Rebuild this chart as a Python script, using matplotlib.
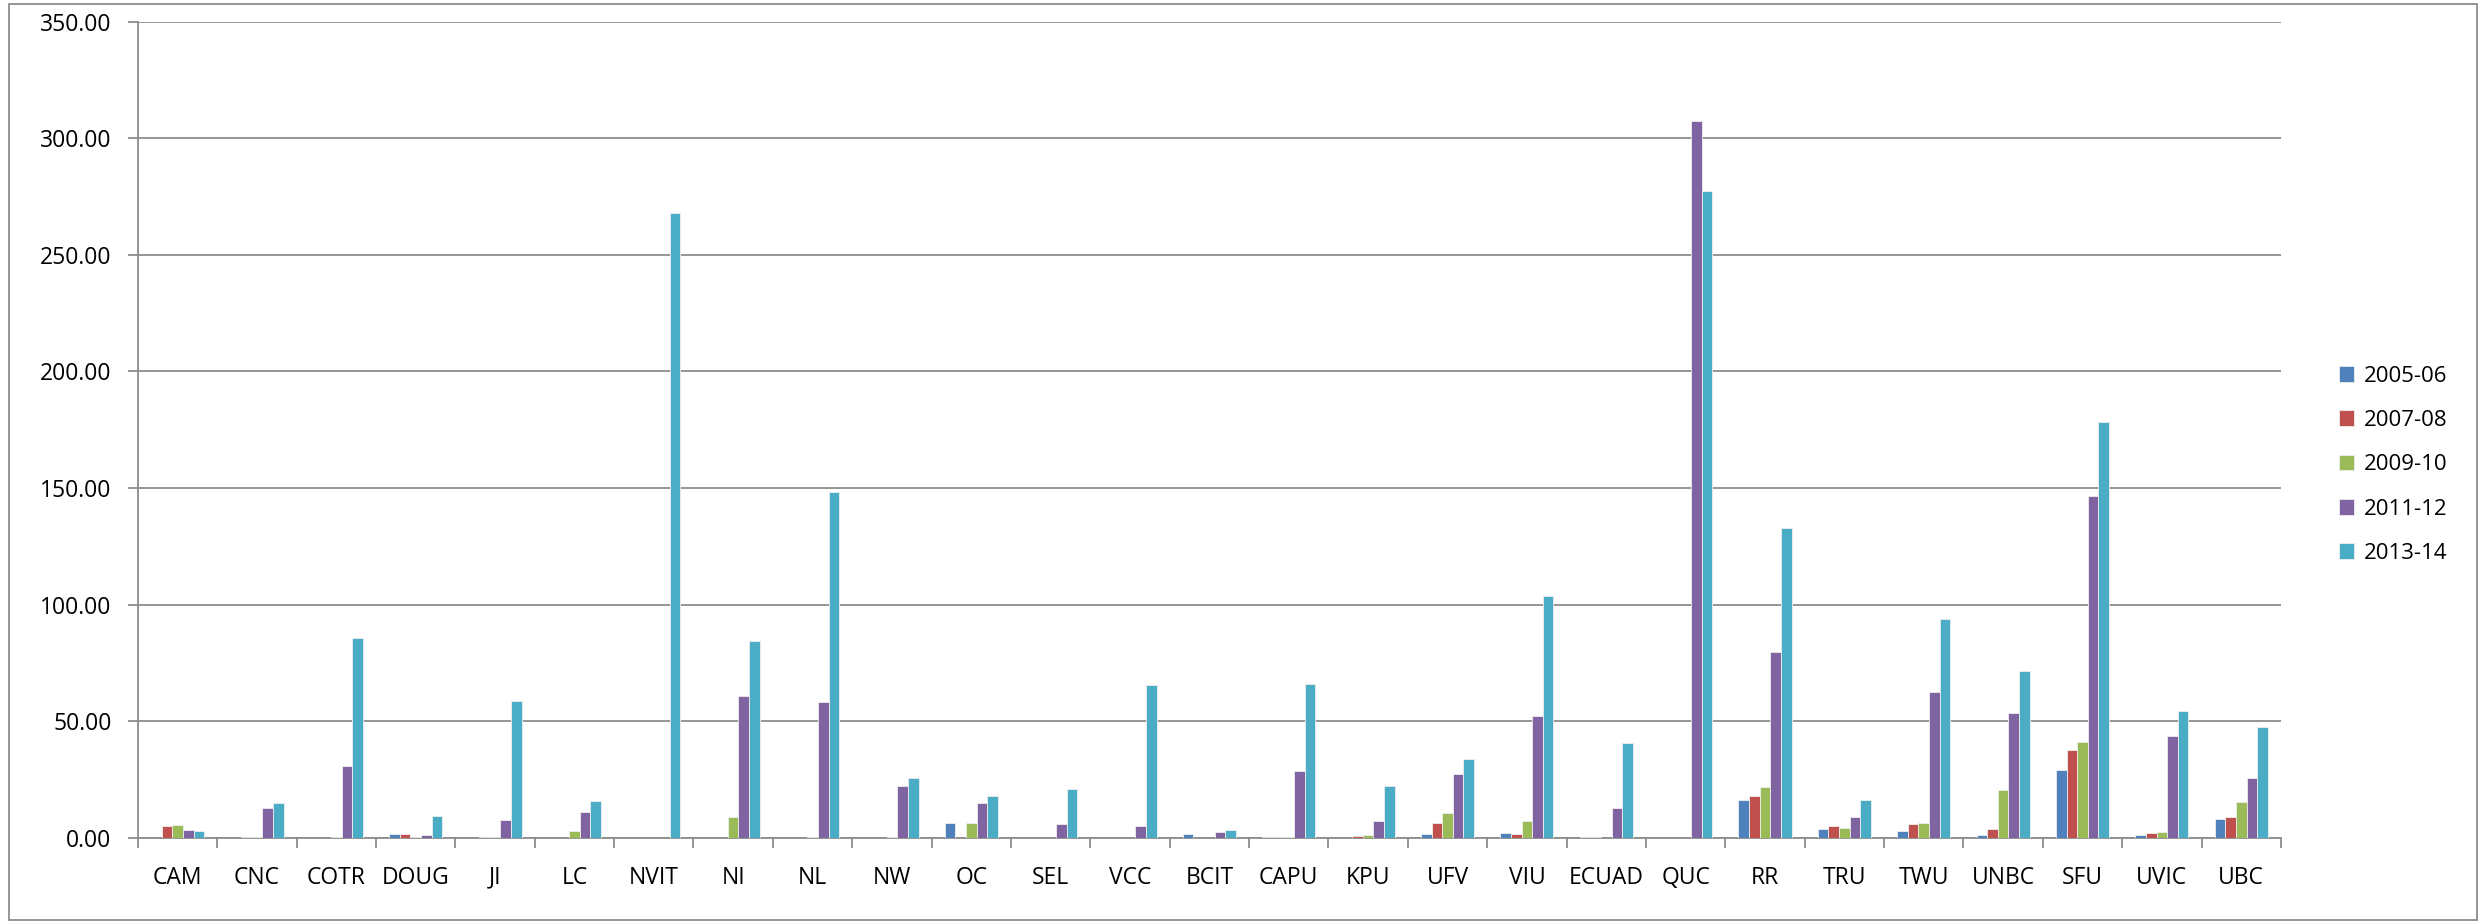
import numpy as np
import matplotlib
matplotlib.use("Agg")
import matplotlib.pyplot as plt
from matplotlib.patches import Rectangle

plt.rcParams['font.family'] = ['Open Sans', 'DejaVu Sans']

categories = ['CAM', 'CNC', 'COTR', 'DOUG', 'JI', 'LC', 'NVIT', 'NI', 'NL', 'NW',
              'OC', 'SEL', 'VCC', 'BCIT', 'CAPU', 'KPU', 'UFV', 'VIU', 'ECUAD',
              'QUC', 'RR', 'TRU', 'TWU', 'UNBC', 'SFU', 'UVIC', 'UBC']

y2005_06 = [0.0, 0.1, 0.0, 1.9, 0.1, 0.0, 0.0, 0.1, 0.0, 0.0, 6.4, 0.2, 0.0, 1.7,
            0.5, 0.0, 1.9, 2.0, 0.5, 0.0, 16.1, 3.9, 3.1, 1.3, 29.0, 1.4, 8.2]
y2007_08 = [5.0, 0.5, 0.0, 1.6, 0.5, 0.0, 0.0, 0.0, 0.0, 0.0, 0.0, 0.0, 0.0, 0.0,
            0.5, 0.9, 6.6, 1.9, 0.5, 0.0, 18.0, 5.0, 6.1, 4.0, 37.5, 2.1, 8.9]
y2009_10 = [5.6, 0.5, 0.5, 0.4, 0.5, 3.0, 0.0, 9.1, 0.5, 0.5, 6.6, 0.2, 0.0, 0.0,
            0.5, 1.4, 10.9, 7.3, 0.0, 0.0, 22.0, 4.3, 6.4, 20.6, 41.0, 2.4, 15.6]
y2011_12 = [3.3, 12.9, 31.0, 1.1, 7.6, 11.1, 0.0, 61.0, 58.3, 22.1, 15.0, 6.1, 5.3,
            2.7, 28.9, 7.1, 27.3, 52.4, 12.7, 307.3, 79.8, 9.1, 62.6, 53.7, 146.8,
            43.9, 25.6]
y2013_14 = [3.1, 14.9, 85.8, 9.6, 58.9, 15.7, 268.0, 84.5, 148.2, 25.7, 18.0, 21.0,
            65.7, 3.6, 66.2, 22.1, 33.9, 103.6, 40.9, 277.5, 132.7, 16.4, 94.0, 71.6,
            178.5, 54.5, 47.6]

series = ['2005-06', '2007-08', '2009-10', '2011-12', '2013-14']
values = [y2005_06, y2007_08, y2009_10, y2011_12, y2013_14]
colors = ['#4F81BD', '#C0504D', '#9BBB59', '#8064A2', '#4BACC6']

fig = plt.figure(figsize=(24.89, 9.24), dpi=100)
ax = fig.add_axes([0.0554, 0.0931, 0.8610, 0.8836])

x = np.arange(len(categories))
w = 0.134
for i, (name, vals, c) in enumerate(zip(series, values, colors)):
    ax.bar(x + (i - 2) * w, vals, width=w, color=c, label=name,
           edgecolor='#eeeeee', linewidth=0.6, zorder=3)

ax.set_xlim(-0.5, len(categories) - 0.5)
ax.set_ylim(0, 350)
ax.set_yticks(np.arange(0, 351, 50))
ax.set_yticklabels(['%.2f' % v for v in np.arange(0, 351, 50)], fontsize=16.5)
ax.yaxis.grid(True, color='#8c8c8c', linewidth=1.3, zorder=0)

ax.set_xticks(np.arange(-0.5, len(categories)), minor=False)
ax.set_xticklabels([])
ax.set_xticks(x, minor=True)
ax.set_xticklabels(categories, minor=True, fontsize=16.5)
ax.tick_params(axis='x', which='major', length=7, width=1.3, color='#8c8c8c', direction='out')
ax.tick_params(axis='x', which='minor', length=0, pad=20)
ax.tick_params(axis='y', length=7, width=1.3, color='#8c8c8c', pad=12)

for s in ['top', 'right']:
    ax.spines[s].set_visible(False)
for s in ['left', 'bottom']:
    ax.spines[s].set_color('#8c8c8c')
    ax.spines[s].set_linewidth(1.3)

leg = ax.legend(loc='center left', bbox_to_anchor=(1.027, 0.457), frameon=False,
                fontsize=16, handlelength=0.7, handleheight=0.7, handletextpad=0.45,
                labelspacing=1.05, borderaxespad=0, borderpad=0)

fig.patches.append(Rectangle((0.0035, 0.004), 0.9915, 0.992, transform=fig.transFigure,
                             fill=False, edgecolor='#8c8c8c', linewidth=1.3))

fig.savefig('out.png', dpi=100)
